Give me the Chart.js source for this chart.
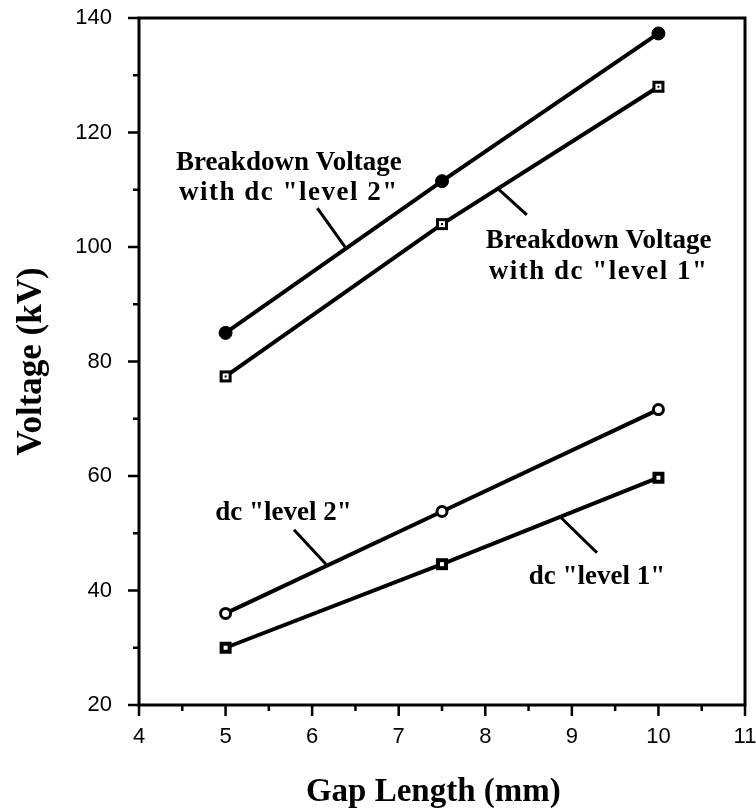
<!DOCTYPE html>
<html><head><meta charset="utf-8">
<script src="https://cdn.jsdelivr.net/npm/chart.js@4/dist/chart.umd.min.js"></script>
<style>html,body{margin:0;padding:0;background:#fff;}</style>
</head><body>
<canvas id="c" width="756" height="812" style="display:block;width:756px;height:812px"></canvas>
<script>
// ---- data ----
const gapLength = [5, 7.5, 10];
const breakdownLevel2 = [85, 111.5, 137.3];
const breakdownLevel1 = [77.4, 104, 128];
const dcLevel2 = [36, 53.8, 71.6];
const dcLevel1 = [30, 44.6, 59.7];
const xTickValues = [4, 5, 6, 7, 8, 9, 10, 11];
const yTickValues = [20, 40, 60, 80, 100, 120, 140];
const xTitle = 'Gap Length (mm)';
const yTitle = 'Voltage (kV)';

const pts = (ys) => gapLength.map((x, i) => ({x: x, y: ys[i]}));

function markerCanvas(kind) {
  const c = document.createElement('canvas');
  const s = 16; c.width = s; c.height = s;
  const g = c.getContext('2d');
  g.fillStyle = '#000';
  if (kind === 'openSquareDot') {
    g.fillRect(2, 2, 12, 12);
    g.fillStyle = '#fff'; g.fillRect(5, 5, 6, 6);
    g.fillStyle = '#000'; g.fillRect(7, 7, 2, 2);
  } else {
    g.fillRect(2, 2, 12, 12);
    g.fillStyle = '#fff'; g.fillRect(6, 6, 4, 4);
  }
  return c;
}

const serif = "'Liberation Serif','Times New Roman',serif";
const sans = "'Liberation Sans',Arial,Helvetica,sans-serif";

const annotations = [
  {lines: ['Breakdown Voltage', 'with dc "level 2"'], spacing: [0, 1.5], x: 5.73, y: [114.7, 109.4], leader: [[6.06, 106.8], [6.39, 99.8]]},
  {lines: ['Breakdown Voltage', 'with dc "level 1"'], spacing: [0, 1.5], x: 9.31, y: [101.0, 95.6], leader: [[8.14, 110.3], [8.48, 105.6]]},
  {lines: ['dc "level 2"'], spacing: [0], x: 5.67, y: [53.5], leader: [[5.79, 50.6], [6.16, 44.6]]},
  {lines: ['dc "level 1"'], spacing: [0], x: 9.29, y: [42.4], leader: [[8.87, 52.8], [9.29, 46.6]]}
];

const framePlugin = {
  id: 'frameTicks',
  afterDraw(chart) {
    const ctx = chart.ctx, a = chart.chartArea;
    const xs = chart.scales.x, ys = chart.scales.y;
    ctx.save();
    ctx.strokeStyle = '#000';
    ctx.lineWidth = 3;
    ctx.strokeRect(a.left, a.top, a.right - a.left, a.bottom - a.top);
    ctx.lineWidth = 2.5;
    ctx.beginPath();
    for (let v = ys.min; v <= ys.max + 1e-9; v += 10) {
      const py = ys.getPixelForValue(v);
      const major = yTickValues.includes(v);
      ctx.moveTo(a.left - (major ? 11 : 6), py);
      ctx.lineTo(a.left, py);
    }
    for (let v = xs.min; v <= xs.max + 1e-9; v += 0.5) {
      const px = xs.getPixelForValue(v);
      const major = xTickValues.includes(v);
      ctx.moveTo(px, a.bottom);
      ctx.lineTo(px, a.bottom + (major ? 11 : 6));
    }
    ctx.stroke();
    ctx.fillStyle = '#000';
    ctx.textAlign = 'center';
    ctx.textBaseline = 'middle';
    ctx.font = 'bold 33px ' + serif;
    ctx.fillText(xTitle, xs.getPixelForValue(7.4), 792);
    ctx.font = 'bold 27px ' + serif;
    ctx.lineWidth = 3;
    annotations.forEach(an => {
      an.lines.forEach((t, i) => {
        if ('letterSpacing' in ctx) ctx.letterSpacing = an.spacing[i] + 'px';
        ctx.fillText(t, xs.getPixelForValue(an.x), ys.getPixelForValue(an.y[i]));
      });
      if ('letterSpacing' in ctx) ctx.letterSpacing = '0px';
      ctx.beginPath();
      ctx.moveTo(xs.getPixelForValue(an.leader[0][0]), ys.getPixelForValue(an.leader[0][1]));
      ctx.lineTo(xs.getPixelForValue(an.leader[1][0]), ys.getPixelForValue(an.leader[1][1]));
      ctx.stroke();
    });
    ctx.restore();
  }
};

const lineDefaults = {showLine: true, borderColor: '#000', borderWidth: 4, pointBorderColor: '#000', tension: 0};

new Chart(document.getElementById('c'), {
  type: 'scatter',
  data: {
    datasets: [
      Object.assign({}, lineDefaults, {label: 'Breakdown Voltage with dc "level 2"', data: pts(breakdownLevel2), pointStyle: 'circle', pointRadius: 6.5, pointBackgroundColor: '#000', pointBorderWidth: 1}),
      Object.assign({}, lineDefaults, {label: 'Breakdown Voltage with dc "level 1"', data: pts(breakdownLevel1), pointStyle: markerCanvas('openSquareDot')}),
      Object.assign({}, lineDefaults, {label: 'dc "level 2"', data: pts(dcLevel2), pointStyle: 'circle', pointRadius: 5, pointBackgroundColor: '#fff', pointBorderWidth: 3}),
      Object.assign({}, lineDefaults, {label: 'dc "level 1"', data: pts(dcLevel1), pointStyle: markerCanvas('filledSquare')})
    ]
  },
  options: {
    responsive: false,
    devicePixelRatio: 1,
    animation: false,
    layout: {padding: {top: 18, right: 11, left: 0, bottom: 0}},
    plugins: {legend: {display: false}, tooltip: {enabled: false}},
    scales: {
      x: {
        type: 'linear', min: 4, max: 11,
        afterBuildTicks: s => { s.ticks = xTickValues.map(v => ({value: v})); },
        afterFit: s => { s.height = 107; s.paddingLeft = 0; s.paddingRight = 0; },
        grid: {display: false}, border: {display: false},
        ticks: {color: '#000', font: {family: sans, size: 22}, padding: 11, maxRotation: 0},
        title: {display: false, text: xTitle}
      },
      y: {
        type: 'linear', min: 20, max: 140,
        afterBuildTicks: s => { s.ticks = yTickValues.map(v => ({value: v})); },
        afterFit: s => { s.width = 139; s.paddingTop = 0; s.paddingBottom = 0; },
        grid: {display: false}, border: {display: false},
        ticks: {color: '#000', font: {family: sans, size: 22}, padding: 19},
        title: {display: true, text: yTitle, color: '#000', font: {family: serif, size: 35, weight: 'bold'}, padding: {top: 11, bottom: 0}}
      }
    }
  },
  plugins: [framePlugin]
});
</script>
</body></html>
